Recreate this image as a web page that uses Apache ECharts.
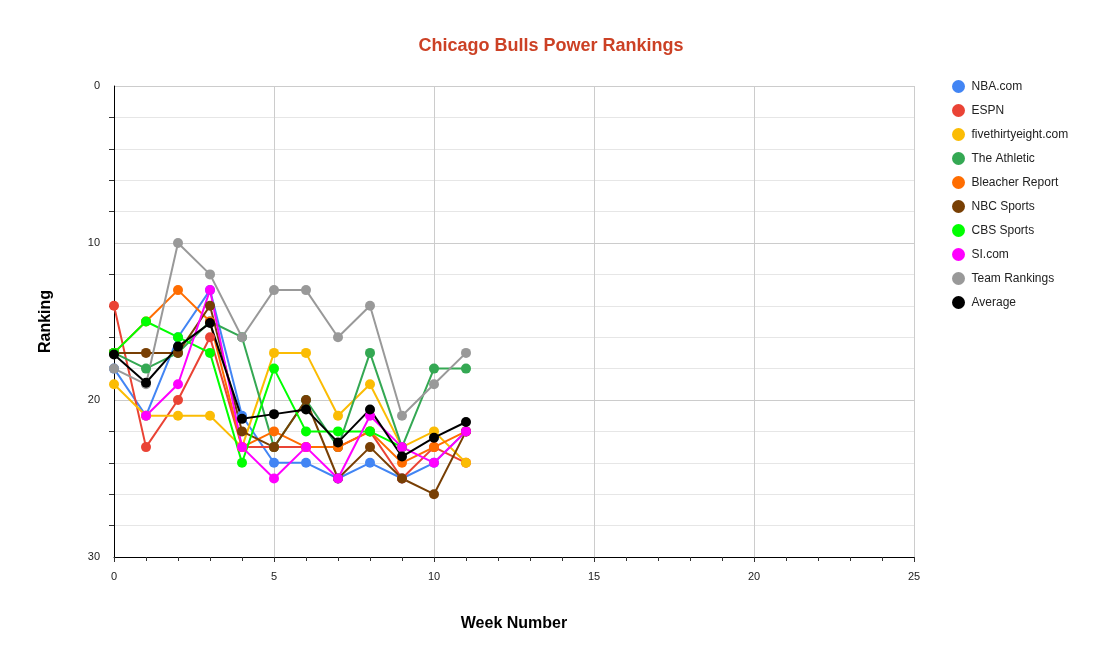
<!DOCTYPE html>
<html>
<head>
<meta charset="utf-8">
<script src="https://cdn.jsdelivr.net/npm/echarts@6/dist/echarts.min.js"></script>
<style>
  html, body { margin: 0; padding: 0; background: #fff; }
  #chart { width: 1102px; height: 665px; }
</style>
</head>
<body>
<div id="chart"></div>
<script>
// 周次
const weeks = [0, 1, 2, 3, 4, 5, 6, 7, 8, 9, 10, 11]

// 各媒体排名 (null = 当周无数据)
const nbaCom = [18, 21, 16, 13, 21, 24, 24, 25, 24, 25, 24, 22]
const espn = [14, 23, 20, 16, 23, 23, 23, 23, 22, 25, 23, 24]
const fiveThirtyEight = [19, 21, 21, 21, 23, 17, 17, 21, 19, 23, 22, 24]
const theAthletic = [17, 18, 17, 15, 16, 23, 20, 23, 17, 23, 18, 18]
const bleacherReport = [17, 15, 13, 15, 23, 22, 23, 23, 22, 24, 23, 22]
const nbcSports = [17, 17, 17, 14, 22, 23, 20, 25, 23, 25, 26, 22]
const cbsSports = [17, 15, 16, 17, 24, 18, 22, 22, 22, 23, null, null]
const siCom = [null, 21, 19, 13, 23, 25, 23, 25, 21, 23, 24, 22]
const teamRankings = [18, 19, 10, 12, 16, 13, 13, 16, 14, 21, 19, 17]
const average = [17.1, 18.9, 16.6, 15.1, 21.2, 20.9, 20.6, 22.7, 20.6, 23.6, 22.4, 21.4]

const seriesList = [
  { name: 'NBA.com', values: nbaCom, color: '#4285F4' },
  { name: 'ESPN', values: espn, color: '#EA4335' },
  { name: 'fivethirtyeight.com', values: fiveThirtyEight, color: '#FBBC04' },
  { name: 'The Athletic', values: theAthletic, color: '#34A853' },
  { name: 'Bleacher Report', values: bleacherReport, color: '#FF6D01' },
  { name: 'NBC Sports', values: nbcSports, color: '#783F04' },
  { name: 'CBS Sports', values: cbsSports, color: '#00FF00' },
  { name: 'SI.com', values: siCom, color: '#FF00FF' },
  { name: 'Team Rankings', values: teamRankings, color: '#999999' },
  { name: 'Average', values: average, color: '#000000' }
]

const font = 'Arial, "Liberation Sans", sans-serif'

let chart = echarts.init(document.getElementById('chart'))

let option = {
  animation: false,
  backgroundColor: '#fff',
  textStyle: { fontFamily: font },
  title: {
    text: 'Chicago Bulls Power Rankings',
    left: 'center',
    top: 32,
    textStyle: { color: '#CC4125', fontSize: 18, fontWeight: 'bold', fontFamily: font }
  },
  legend: {
    orient: 'vertical',
    left: 952,
    top: 80,
    padding: 0,
    itemGap: 11,
    itemWidth: 14,
    itemHeight: 13,
    icon: 'circle',
    textStyle: { color: '#222', fontSize: 12, fontFamily: font, padding: [0, 0, 0, 1] },
    data: seriesList.map(s => s.name)
  },
  grid: { left: 114, right: 188, top: 86, bottom: 108 },
  xAxis: {
    type: 'value',
    min: 0,
    max: 25,
    interval: 5,
    name: 'Week Number',
    nameLocation: 'middle',
    nameGap: 59,
    nameTextStyle: { color: '#000', fontSize: 16, fontWeight: 'bold', fontFamily: font },
    axisLine: { show: true, onZero: false, lineStyle: { color: '#000', width: 1 } },
    axisTick: { show: true, length: 5, lineStyle: { color: '#333' } },
    minorTick: { show: true, splitNumber: 5, length: 4, lineStyle: { color: '#333' } },
    axisLabel: { color: '#222', fontSize: 11, margin: 14 },
    splitLine: { show: true, lineStyle: { color: '#cccccc' } }
  },
  yAxis: {
    type: 'value',
    inverse: true,
    min: 0,
    max: 30,
    interval: 10,
    name: 'Ranking',
    nameLocation: 'middle',
    nameGap: 60,
    nameRotate: 90,
    nameTextStyle: { color: '#000', fontSize: 16, fontWeight: 'bold', fontFamily: font },
    axisLine: { show: true, lineStyle: { color: '#000', width: 1 } },
    axisTick: { show: false },
    minorTick: { show: true, splitNumber: 5, length: 5, lineStyle: { color: '#333' } },
    minorSplitLine: { show: true, lineStyle: { color: '#e6e6e6' } },
    axisLabel: { color: '#222', fontSize: 11, margin: 14 },
    splitLine: { show: true, lineStyle: { color: '#cccccc' } }
  },
  series: seriesList.map(s => ({
    name: s.name,
    type: 'line',
    symbol: 'circle',
    symbolSize: 10,
    showSymbol: true,
    color: s.color,
    lineStyle: { width: 2, color: s.color },
    itemStyle: { color: s.color },
    data: weeks.map((w, i) => [w, s.values[i]]).filter(p => p[1] !== null)
  }))
}

chart.setOption(option)
</script>
</body>
</html>
